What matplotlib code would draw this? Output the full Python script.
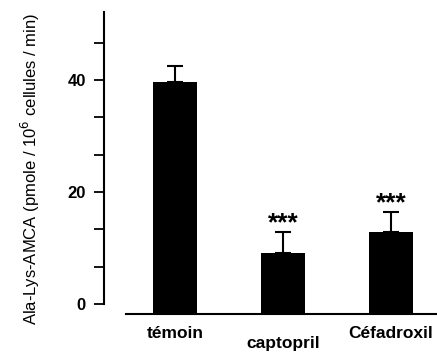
import matplotlib
matplotlib.use("Agg")
import matplotlib.pyplot as plt
import numpy as np

plt.rcParams['font.family'] = ['Liberation Sans', 'DejaVu Sans']

groups = ["témoin", "captopril", "Céfadroxil"]
means = np.array([39.6, 9.1, 12.8])
errs = np.array([2.9, 3.7, 3.6])
stars = ["", "***", "***"]

ymin, ymax = -1.8, 52.1
x = np.arange(len(groups))

fig = plt.figure(figsize=(4.37, 3.56), dpi=100)
ax = fig.add_axes([0.238, 0.118, 0.762, 0.848])

# bars run down to the x axis line, which sits a bit below 0
ax.bar(x, means - ymin, bottom=ymin, width=0.4, color="black")
ax.errorbar(x, means, yerr=[np.zeros(3), errs], fmt="none", ecolor="black",
            elinewidth=1.5, capsize=5.5, capthick=1.5)

for xi, m, e, s in zip(x, means, errs, stars):
    if s:
        ax.annotate(s, (xi, m + e), xytext=(0, 6.5), textcoords="offset points",
                    ha="center", va="center", fontsize=19, fontweight="bold")

# x labels, captopril a bit lower
offsets = [-13.7, -21.0, -13.7]
for xi, g, off in zip(x, groups, offsets):
    ax.annotate(g, (xi, 0), xycoords=("data", "axes fraction"),
                xytext=(0, off), textcoords="offset points",
                ha="center", va="center", fontsize=12.5, fontweight="bold",
                annotation_clip=False)

ax.set_xlim(-0.657, 2.426)
ax.set_ylim(ymin, ymax)
ax.set_xticks([])

ax.spines["top"].set_visible(False)
ax.spines["right"].set_visible(False)
ax.spines["left"].set_bounds(0, ymax)
ax.spines["bottom"].set_bounds(-0.45, 2.43)
ax.spines["left"].set_linewidth(1.5)
ax.spines["bottom"].set_linewidth(1.5)

ax.set_yticks([0, 20, 40])
ax.set_yticks([20 / 3, 40 / 3, 80 / 3, 100 / 3, 140 / 3], minor=True)
ax.tick_params(axis="y", which="both", length=7, width=1.3, direction="out")
ax.tick_params(axis="y", which="major", labelsize=12, pad=6)
for lab in ax.get_yticklabels():
    lab.set_fontweight("bold")

ax.set_ylabel("Ala-Lys-AMCA (pmole / 10$^{6}$ cellules / min)", fontsize=12)
ax.yaxis.set_label_coords(-0.185, 0.48)

fig.savefig("out.png", dpi=100)
